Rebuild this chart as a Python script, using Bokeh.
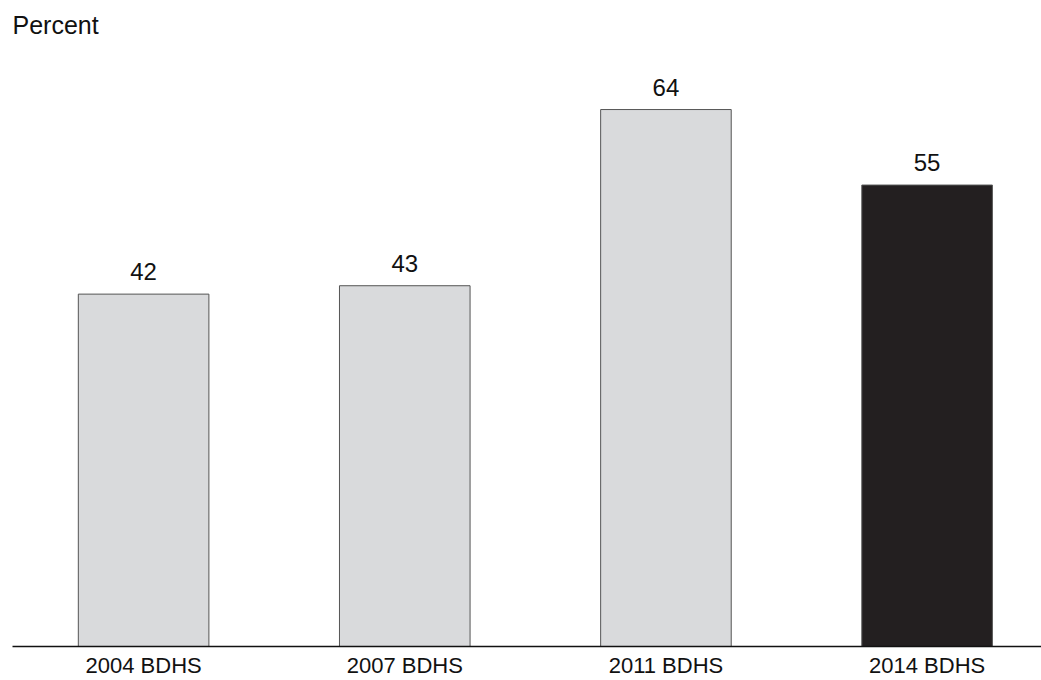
from bokeh.plotting import figure
from bokeh.models import ColumnDataSource, FixedTicker, Range1d, LabelSet
from bokeh.core.properties import value
from bokeh.embed import file_html
from bokeh.resources import INLINE

categories = ["2004 BDHS", "2007 BDHS", "2011 BDHS", "2014 BDHS"]
values = [42, 43, 64, 55]
colors = ["#d9dadc", "#d9dadc", "#d9dadc", "#231f20"]

xs = list(range(len(categories)))
src = ColumnDataSource(dict(x=xs, top=values, color=colors,
                            label=[str(v) for v in values]))

PX_PER_UNIT = 8.39
FRAME_H = 596

p = figure(output_backend="svg", toolbar_location=None,
           frame_width=1029, frame_height=FRAME_H,
           x_range=Range1d(-0.502, 3.438),
           y_range=Range1d(0, FRAME_H / PX_PER_UNIT),
           min_border_left=12, min_border_right=0, min_border_top=0,
           min_border_bottom=0)

p.title.text = "Percent"
p.title.text_font = "Liberation Sans"
p.title.text_font_size = "25px"
p.title.text_font_style = "normal"
p.title.text_color = "#111111"
p.title.offset = 0
p.title.standoff = 20
p.title.vertical_align = "top"

p.vbar(x="x", top="top", width=0.5, bottom=0, source=src,
       fill_color="color", line_color="#555555", line_width=1)

labels = LabelSet(x="x", y="top", text="label", source=src,
                  text_align="center", text_baseline="alphabetic",
                  y_offset=14, text_font=value("Liberation Sans"),
                  text_font_size=value("24px"), text_color="#111111")
p.add_layout(labels)

p.yaxis.visible = False
p.xgrid.visible = False
p.ygrid.visible = False
p.outline_line_color = None

ax = p.xaxis[0]
ax.ticker = FixedTicker(ticks=xs)
ax.major_label_overrides = {i: c for i, c in zip(xs, categories)}
ax.major_tick_line_color = None
ax.minor_tick_line_color = None
ax.axis_line_color = "#111111"
ax.axis_line_width = 1.5
ax.major_label_text_font = "Liberation Sans"
ax.major_label_text_font_size = "22px"
ax.major_label_text_color = "#111111"
ax.major_label_standoff = 0

open("out.html", "w").write(file_html(p, INLINE))
